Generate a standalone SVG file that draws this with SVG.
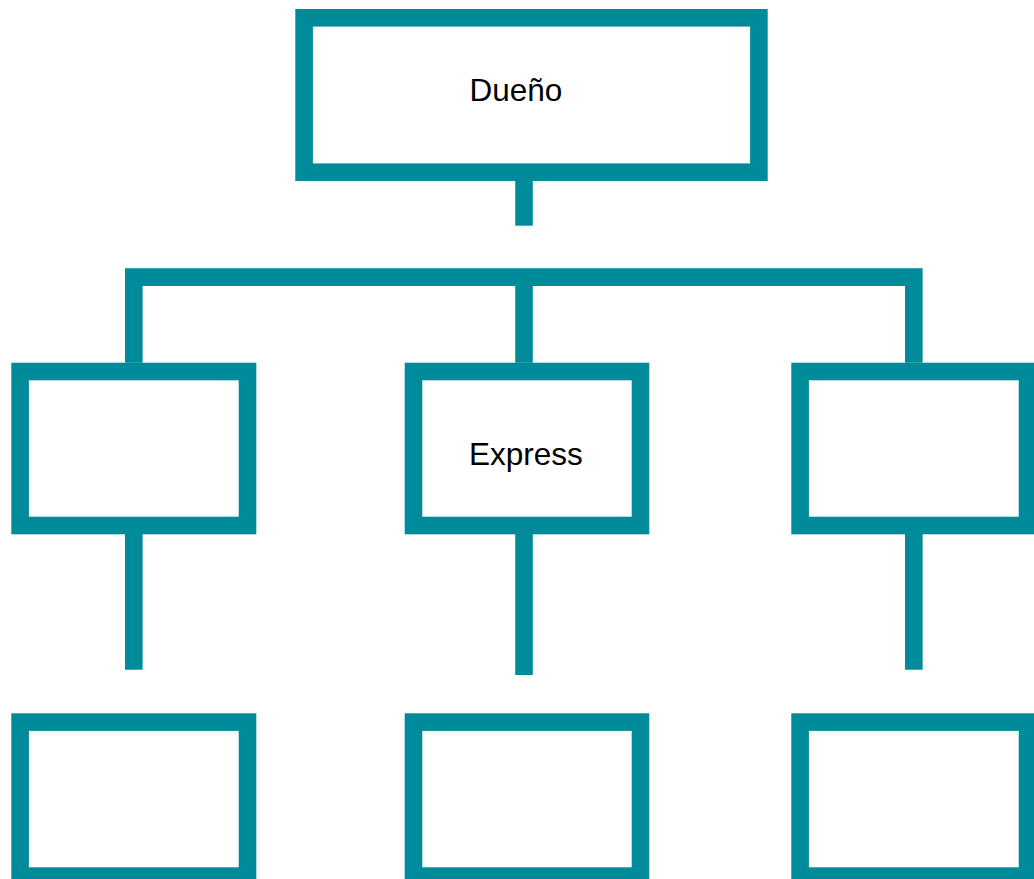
<svg xmlns="http://www.w3.org/2000/svg" width="1034" height="879" viewBox="0 0 1034 879">
<style>
.box{fill:#ffffff;stroke:#008b9a;stroke-width:17.6}
.conn{fill:none;stroke:#008b9a;stroke-width:17.6;stroke-linecap:butt;stroke-linejoin:miter}
.lbl{font-family:"Liberation Sans",Arial,sans-serif;font-size:31.5px;fill:#000000}
</style>
<rect width="1034" height="879" fill="#ffffff"/>
<g id="connectors">
<line class="conn" x1="524" y1="181" x2="524" y2="225.7"/>
<polyline class="conn" points="133.8,362.7 133.8,277.1 913.8,277.1 913.8,362.7"/>
<line class="conn" x1="524" y1="277.1" x2="524" y2="362.7"/>
<line class="conn" x1="133.8" y1="534" x2="133.8" y2="669.7"/>
<line class="conn" x1="524" y1="534" x2="524" y2="675"/>
<line class="conn" x1="913.8" y1="534" x2="913.8" y2="669.7"/>
</g>
<g id="node-dueno">
<rect class="box" x="304.1" y="17.8" width="454.8" height="154.4"/>
<text class="lbl" x="469.5" y="100.7">Dueño</text>
</g>
<g id="node-mid-left">
<rect class="box" x="20.1" y="371.5" width="227.4" height="154"/>
</g>
<g id="node-express">
<rect class="box" x="413.5" y="371.5" width="227" height="154"/>
<text class="lbl" x="469" y="465">Express</text>
</g>
<g id="node-mid-right">
<rect class="box" x="800.1" y="371.5" width="227.4" height="154"/>
</g>
<g id="node-bottom-left">
<rect class="box" x="20.1" y="722.1" width="227.4" height="154"/>
</g>
<g id="node-bottom-middle">
<rect class="box" x="413.5" y="722.1" width="227" height="154"/>
</g>
<g id="node-bottom-right">
<rect class="box" x="800.1" y="722.1" width="227.4" height="154"/>
</g>
</svg>
